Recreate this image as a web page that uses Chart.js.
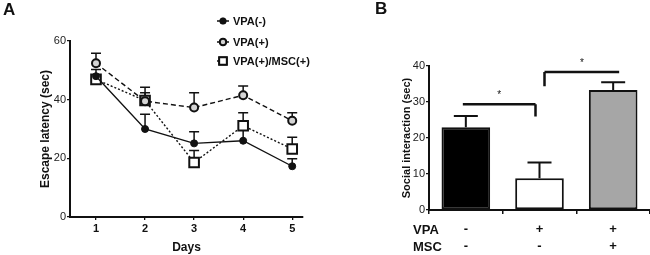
<!DOCTYPE html>
<html lang="en">
<head>
    <meta charset="UTF-8">
    <title>Escape latency and social interaction</title>
    <script src="https://cdn.jsdelivr.net/npm/chart.js"></script>
    <style>
        body { margin: 0; background: #fff; }
        #wrap { position: relative; width: 650px; height: 255px; overflow: hidden; }
        canvas { position: absolute; top: 0; }
        .panel { position: absolute; font: bold 17px "Liberation Sans", Arial, sans-serif; color: #111; }
    </style>
</head>
<body>
    <div id="wrap">
        <canvas id="chartA" width="330" height="255" style="left:0"></canvas>
        <canvas id="chartB" width="270" height="255" style="left:380px"></canvas>
        <div class="panel" style="left:3px; top:0px">A</div>
        <div class="panel" style="left:375px; top:-1px">B</div>
    </div>

    <script>
        // panel A: escape latency per day
        const days = [1, 2, 3, 4, 5];
        const seriesNames = ["VPA(-)", "VPA(+)", "VPA(+)/MSC(+)"];
        const vpaNeg = [48, 30, 25.1, 26, 17.3];
        const vpaNegErr = [2.3, 5, 4, 4.5, 2.6];
        const vpaPos = [52.4, 39.5, 37.3, 41.5, 32.8];
        const vpaPosErr = [3.4, 4.7, 5.1, 3.2, 2.7];
        const vpaMsc = [46.9, 39.7, 18.6, 31.1, 23.2];
        const vpaMscErr = [1.5, 2.7, 4.1, 4.4, 4];
        const yTicksA = [0, 20, 40, 60];

        // panel B: social interaction
        const groupSigns = [["-", "-"], ["+", "-"], ["+", "+"]];
        const rowNames = ["VPA", "MSC"];
        const social = [23, 8.8, 33.3];
        const socialErr = [3.1, 4.4, 2.2];
        const bracketFrom = [0, 1];
        const bracketTo = [1, 2];
        const bracketLevel = [29.4, 38.3];
        const bracketLeg = [26, 34.4];

        const FONT = "'Liberation Sans', Arial, sans-serif";
        const INK = "#111";

        // upward-only error bars with a cap
        const errorBars = {
            id: "errorBars",
            beforeDatasetsDraw(chart, args, opts) {
                const ctx = chart.ctx;
                const yS = chart.scales.y;
                chart.data.datasets.forEach((ds, di) => {
                    if (!ds.errUp) return;
                    const meta = chart.getDatasetMeta(di);
                    meta.data.forEach((el, i) => {
                        const v = chart.config.type === "bar" ? ds.data[i] : ds.data[i].y;
                        const top = yS.getPixelForValue(v + ds.errUp[i]);
                        const base = yS.getPixelForValue(v);
                        ctx.save();
                        ctx.strokeStyle = INK;
                        ctx.lineWidth = opts.width || 1.5;
                        ctx.setLineDash([]);
                        ctx.beginPath();
                        ctx.moveTo(el.x, base);
                        ctx.lineTo(el.x, top);
                        ctx.moveTo(el.x - opts.cap, top);
                        ctx.lineTo(el.x + opts.cap, top);
                        ctx.stroke();
                        ctx.restore();
                    });
                });
            }
        };

        // legend with line sample and marker, top right of panel A
        const legendA = {
            id: "legendA",
            afterDraw(chart) {
                const ctx = chart.ctx;
                const rows = [21, 42, 61];
                chart.data.datasets.forEach((ds, i) => {
                    const y = rows[i];
                    ctx.save();
                    ctx.strokeStyle = INK;
                    ctx.lineWidth = 1.5;
                    ctx.setLineDash(ds.borderDash || []);
                    ctx.beginPath();
                    ctx.moveTo(217, y);
                    ctx.lineTo(229, y);
                    ctx.stroke();
                    ctx.setLineDash([]);
                    Chart.helpers.drawPoint(ctx, {
                        pointStyle: ds.pointStyle,
                        radius: ds.pointRadius * 0.8,
                        borderWidth: ds.pointBorderWidth
                    }, 223, y);
                    ctx.fillStyle = ds.pointBackgroundColor;
                    ctx.strokeStyle = INK;
                    ctx.lineWidth = ds.pointBorderWidth;
                    ctx.fill();
                    ctx.stroke();
                    ctx.fillStyle = INK;
                    ctx.font = "bold 11px " + FONT;
                    ctx.textBaseline = "middle";
                    ctx.fillText(ds.label, 233, y + 0.5);
                    ctx.restore();
                });
            }
        };

        const lineSet = (label, vals, errs, extra) => Object.assign({
            label: label,
            data: days.map((d, i) => ({ x: d, y: vals[i] })),
            errUp: errs,
            borderColor: INK,
            borderWidth: 1.4,
            pointBorderColor: INK,
            pointHoverRadius: 0,
            clip: false
        }, extra);

        new Chart(document.getElementById("chartA"), {
            type: "line",
            data: {
                datasets: [
                    lineSet(seriesNames[0], vpaNeg, vpaNegErr, {
                        pointStyle: "circle", pointRadius: 3.5, pointBorderWidth: 1,
                        pointBackgroundColor: INK
                    }),
                    lineSet(seriesNames[1], vpaPos, vpaPosErr, {
                        borderDash: [5, 3], pointStyle: "circle", pointRadius: 4,
                        pointBorderWidth: 2, pointBackgroundColor: "#d4d4d4"
                    }),
                    lineSet(seriesNames[2], vpaMsc, vpaMscErr, {
                        borderDash: [2, 2], pointStyle: "rect", pointRadius: 6.8,
                        pointBorderWidth: 2, pointBackgroundColor: "#fff"
                    })
                ]
            },
            options: {
                responsive: false,
                animation: false,
                events: [],
                layout: { padding: { left: 34, right: 27, top: 41, bottom: 0 } },
                plugins: {
                    legend: { display: false },
                    tooltip: { enabled: false },
                    errorBars: { cap: 5, width: 1.5 }
                },
                scales: {
                    x: {
                        type: "linear",
                        min: 0.47,
                        max: 5.22,
                        afterBuildTicks: (s) => { s.ticks = days.map((d) => ({ value: d })); },
                        afterFit: (s) => { s.height = 38; },
                        grid: { drawOnChartArea: false, color: INK, tickLength: 3, lineWidth: 1.3 },
                        border: { color: INK, width: 2 },
                        ticks: { color: INK, padding: 2, font: { family: FONT, size: 11, weight: "bold" } },
                        title: {
                            display: true, text: "Days", color: INK, padding: 0,
                            font: { family: FONT, size: 12, weight: "bold" }
                        }
                    },
                    y: {
                        min: 0,
                        max: 60,
                        afterBuildTicks: (s) => { s.ticks = yTicksA.map((v) => ({ value: v })); },
                        afterFit: (s) => { s.width = 36; },
                        grid: { drawOnChartArea: false, color: INK, tickLength: 3, lineWidth: 1.3 },
                        border: { color: INK, width: 2 },
                        ticks: { color: "#222", padding: 1, font: { family: FONT, size: 11 } },
                        title: {
                            display: true, text: "Escape latency (sec)", color: INK, padding: 4,
                            font: { family: FONT, size: 12, weight: "bold" }
                        }
                    }
                }
            },
            plugins: [errorBars, legendA]
        });

        // significance brackets and VPA / MSC row names for panel B
        const bracketsB = {
            id: "bracketsB",
            afterDraw(chart) {
                const ctx = chart.ctx;
                const xS = chart.scales.x;
                const yS = chart.scales.y;
                ctx.save();
                ctx.strokeStyle = INK;
                ctx.lineWidth = 2.5;
                bracketFrom.forEach((from, i) => {
                    const x1 = xS.getPixelForValue(from) + (i === 0 ? -3 : 5);
                    const x2 = xS.getPixelForValue(bracketTo[i]) + (i === 0 ? -4 : 6);
                    const y = yS.getPixelForValue(bracketLevel[i]);
                    const yLeg = yS.getPixelForValue(bracketLeg[i]);
                    const legX = i === 0 ? x2 : x1;
                    ctx.beginPath();
                    ctx.moveTo(x1, y);
                    ctx.lineTo(x2, y);
                    ctx.moveTo(legX, y);
                    ctx.lineTo(legX, yLeg);
                    ctx.stroke();
                    ctx.fillStyle = INK;
                    ctx.font = "10px " + FONT;
                    ctx.textAlign = "center";
                    ctx.textBaseline = "middle";
                    ctx.fillText("*", (x1 + x2) / 2, y - 9);
                });
                ctx.font = "bold 13px " + FONT;
                ctx.textAlign = "left";
                ctx.textBaseline = "middle";
                ctx.fillStyle = INK;
                rowNames.forEach((name, i) => ctx.fillText(name, 33, 230 + i * 17));
                ctx.restore();
            }
        };

        new Chart(document.getElementById("chartB"), {
            type: "bar",
            data: {
                labels: groupSigns,
                datasets: [{
                    data: social,
                    errUp: socialErr,
                    backgroundColor: ["#000", "#fff", "#a6a6a6"],
                    borderColor: INK,
                    borderWidth: 2,
                    borderSkipped: false,
                    barPercentage: 0.66,
                    categoryPercentage: 1
                }]
            },
            options: {
                responsive: false,
                animation: false,
                events: [],
                layout: { padding: { left: 20, right: -3, top: 66, bottom: 0 } },
                plugins: {
                    legend: { display: false },
                    tooltip: { enabled: false },
                    errorBars: { cap: 12, width: 2 }
                },
                scales: {
                    x: {
                        afterFit: (s) => { s.height = 45; },
                        grid: { drawOnChartArea: false, color: INK, tickLength: 4, lineWidth: 1.5 },
                        border: { color: INK, width: 2 },
                        ticks: {
                            color: INK, padding: 7,
                            font: { family: FONT, size: 13, weight: "bold", lineHeight: 1.3 }
                        }
                    },
                    y: {
                        min: 0,
                        max: 40,
                        ticks: { stepSize: 10, color: "#222", padding: 1, font: { family: FONT, size: 11 } },
                        afterFit: (s) => { s.width = 29; },
                        grid: { drawOnChartArea: false, color: INK, tickLength: 3, lineWidth: 1.3 },
                        border: { color: INK, width: 2 },
                        title: {
                            display: true, text: "Social interaction (sec)", color: INK, padding: 0,
                            font: { family: FONT, size: 11, weight: "bold" }
                        }
                    }
                }
            },
            plugins: [errorBars, bracketsB]
        });
    </script>
</body>
</html>
